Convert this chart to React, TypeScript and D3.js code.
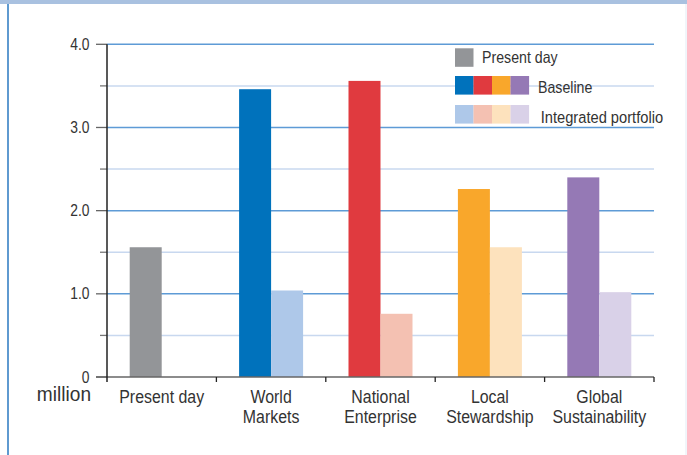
import React from "react";
import * as d3 from "d3";

const categories = ["Present day", "World Markets", "National Enterprise", "Local Stewardship", "Global Sustainability"];
const categoryLines = [["Present day"], ["World", "Markets"], ["National", "Enterprise"], ["Local", "Stewardship"], ["Global", "Sustainability"]];
const baselineValues = [1.56, 3.46, 3.56, 2.26, 2.4];
const integratedValues = [null, 1.04, 0.76, 1.56, 1.02];
const baselineColors = ["#939598", "#0072bc", "#e03a3f", "#f9a72b", "#9579b5"];
const integratedColors = ["", "#aec8e9", "#f4c1b2", "#fde2bd", "#d9d1e8"];
const majorTicks = [0, 1, 2, 3, 4];
const majorLabels = ["0", "1.0", "2.0", "3.0", "4.0"];
const minorTicks = [0.5, 1.5, 2.5, 3.5];
const legendLabels = ["Present day", "Baseline", "Integrated portfolio"];

const W = 687;
const H = 455;
const FONT = "'Liberation Sans', Arial, sans-serif";
const TXT = "#333333";

function CText(props: { x: number; y: number; size: number; sx?: number; anchor?: string; children: React.ReactNode }) {
  const { x, y, size, sx = 0.87, anchor = "start", children } = props;
  return (
    <g transform={`translate(${x},${y}) scale(${sx},1)`}>
      <text x={0} y={0} textAnchor={anchor as any} fontFamily={FONT} fontSize={size} fill={TXT}>
        {children}
      </text>
    </g>
  );
}

export default function App() {
  const x0 = 107, x1 = 654;
  const y = d3.scaleLinear().domain([0, 4]).range([377, 44.3]);
  const x = d3.scaleBand().domain(categories).range([x0, x1]).paddingInner(0).paddingOuter(0);
  const barW = 32;
  const baseY = y(0);

  return (
    <div style={{ position: "absolute", left: 0, top: 0, width: W, height: H }}>
      <svg width={W} height={H} style={{ display: "block" }}>
        <rect x={0} y={0} width={W} height={H} fill="#ffffff" />
        <rect x={0} y={0} width={W} height={4} fill="#a9c1e0" />
        <line x1={8} x2={8} y1={4} y2={H} stroke="#2a78c0" strokeWidth={1.5} />
        <line x1={686} x2={686} y1={4} y2={H} stroke="#e3ebf5" strokeWidth={1} />

        {/* minor gridlines */}
        {minorTicks.map((t) => (
          <g key={"mi" + t}>
            <line x1={x0} x2={x1} y1={y(t)} y2={y(t)} stroke="#c8d8ef" strokeWidth={1.5} />
            <line x1={100} x2={x0} y1={y(t)} y2={y(t)} stroke="#777" strokeWidth={1.3} />
          </g>
        ))}
        {/* major gridlines */}
        {majorTicks.map((t, i) => (
          <g key={"ma" + t}>
            {t > 0 && <line x1={x0} x2={x1} y1={y(t)} y2={y(t)} stroke="#5e9bd6" strokeWidth={1.5} />}
            <line x1={96} x2={x0} y1={y(t)} y2={y(t)} stroke="#666" strokeWidth={1.3} />
            <CText x={89.5} y={y(t) + 5.5} size={16.5} sx={0.84} anchor="end">{majorLabels[i]}</CText>
          </g>
        ))}

        {/* bars */}
        {categories.map((c, i) => {
          const cx = (x(c) as number) + x.bandwidth() / 2;
          const bv = baselineValues[i];
          const iv = integratedValues[i];
          return (
            <g key={c}>
              <rect x={cx - barW} y={y(bv)} width={barW} height={baseY - y(bv)} fill={baselineColors[i]} />
              {iv != null && (
                <rect x={cx} y={y(iv)} width={barW} height={baseY - y(iv)} fill={integratedColors[i]} />
              )}
            </g>
          );
        })}

        {/* axes */}
        <line x1={96} x2={x1} y1={baseY} y2={baseY} stroke="#666" strokeWidth={1.5} />
        <line x1={x0} x2={x0} y1={y(4)} y2={baseY + 5} stroke="#222" strokeWidth={1.5} />
        {categories.map((c, i) => (
          <line key={"xt" + i} x1={(x(c) as number) + x.bandwidth()} x2={(x(c) as number) + x.bandwidth()} y1={baseY} y2={baseY + 5} stroke="#222" strokeWidth={1.3} />
        ))}
        {categories.map((c, i) => {
          const cx = (x(c) as number) + x.bandwidth() / 2;
          return (
            <g key={"xl" + i}>
              {categoryLines[i].map((ln, j) => (
                <CText key={j} x={cx} y={402.5 + j * 20} size={18.5} sx={0.86} anchor="middle">{ln}</CText>
              ))}
            </g>
          );
        })}
        <CText x={91} y={400.7} size={19.5} sx={0.98} anchor="end">million</CText>

        {/* legend */}
        <rect x={455} y={48.3} width={18.5} height={18.5} fill={baselineColors[0]} />
        <CText x={482} y={63.3} size={16.3} sx={0.87}>{legendLabels[0]}</CText>
        {baselineColors.slice(1).map((col, k) => (
          <rect key={"lb" + k} x={455 + k * 18.5} y={76} width={18.6} height={18.6} fill={col} />
        ))}
        <CText x={538} y={93} size={16.3} sx={0.87}>{legendLabels[1]}</CText>
        {integratedColors.slice(1).map((col, k) => (
          <rect key={"li" + k} x={455 + k * 18.5} y={105} width={18.6} height={18.6} fill={col} />
        ))}
        <CText x={540.7} y={122.5} size={16.5} sx={0.89}>{legendLabels[2]}</CText>
      </svg>
    </div>
  );
}
